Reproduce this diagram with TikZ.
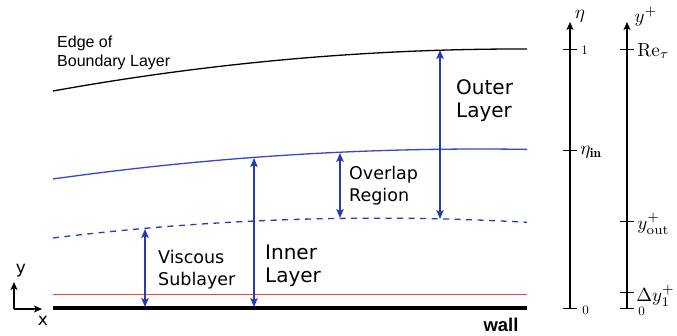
\documentclass[tikz,border=0pt]{standalone}
\usepackage{fontspec}
\usetikzlibrary{arrows.meta}
\newfontfamily\labelfont{DejaVu Sans}
\newfontfamily\edgefont{Liberation Sans}
\definecolor{layerblue}{RGB}{38,58,178}
\definecolor{curveblue}{RGB}{52,70,205}
\definecolor{viscred}{RGB}{255,60,60}

\tikzset{
  regionarrow/.style={draw=layerblue, line width=1.3pt,
    {Stealth[length=9pt,width=7.5pt,inset=2pt]}-{Stealth[length=9pt,width=7.5pt,inset=2pt]}},
  axisline/.style={draw=black, line width=1.3pt, -{Stealth[length=8pt,width=7pt,inset=2pt]}},
  tickmark/.style={draw=black, line width=1pt},
  bigtext/.style={font=\labelfont\fontsize{20}{23}\selectfont, align=left, inner sep=0pt, anchor=north west},
  midtext/.style={font=\labelfont\fontsize{17.5}{22.5}\selectfont, align=left, inner sep=0pt, anchor=north west},
  mathlbl/.style={scale=1.9, inner sep=0pt},
  ticklbl/.style={scale=1.3, inner sep=0pt, anchor=west},
}

\begin{document}
\begin{tikzpicture}[x=1pt,y=-1pt]
\useasboundingbox (0,0) rectangle (677,336);

% layer boundaries
\draw[black, line width=1.3pt] (53,91) .. controls (211,62.6) and (369,48.6) .. (527,49);
\draw[curveblue, line width=1.3pt] (53,179) .. controls (211,156.8) and (369,146.9) .. (527,149.4);
\draw[layerblue, line width=1.3pt, dash pattern=on 6pt off 5.5pt]
  (53,238) .. controls (211,218.7) and (369,213.5) .. (527,222.3);
\draw[viscred, line width=0.9pt] (53,294) -- (527,294);
\draw[black, line width=4.5pt] (53,308) -- (527,308);
\node[font=\edgefont\bfseries\fontsize{18.5}{20}\selectfont, anchor=base, inner sep=0pt] (wall) at (501,332) {wall};

\node[font=\edgefont\fontsize{16}{18.5}\selectfont, align=left, inner sep=0pt, anchor=north west]
  (edge) at (57,36) {Edge of\\Boundary Layer};

% region extents
\coordinate (vtop) at (145,229);  \coordinate (vbot) at (145,307);
\coordinate (itop) at (254,158);  \coordinate (ibot) at (254,307);
\coordinate (otop) at (340,153);  \coordinate (obot) at (340,218);
\coordinate (utop) at (440,50);   \coordinate (ubot) at (440,219);
\draw[regionarrow] (vtop) -- (vbot);
\draw[regionarrow] (itop) -- (ibot);
\draw[regionarrow] (otop) -- (obot);
\draw[regionarrow] (utop) -- (ubot);

\node[midtext] (visc) at (158,250) {Viscous\\Sublayer};
\node[bigtext] (inner) at (265,245) {Inner\\Layer};
\node[midtext] (overlap) at (349,166) {Overlap\\Region};
\node[bigtext] (outer) at (456,79) {Outer\\Layer};

% coordinate system
\coordinate (origin) at (14,309);
\coordinate (xend) at (42,309);
\coordinate (yend) at (14,282);
\draw[axisline, line width=1.1pt] (origin) -- (xend);
\draw[axisline, line width=1.1pt] (origin) -- (yend);
\node[font=\labelfont\fontsize{17}{20}\selectfont, inner sep=0pt] (ylbl) at (21,271) {y};
\node[font=\labelfont\fontsize{17}{20}\selectfont, inner sep=0pt] (xlbl) at (43,321) {x};

% outer scaling axis
\coordinate (eta0) at (570,309);
\coordinate (etatop) at (570,22);
\draw[axisline] (eta0) -- (etatop);
\node[mathlbl] (etalbl) at (580,16) {$\eta$};
\draw[tickmark] (563,50) -- (577,50);
\draw[tickmark] (563,151) -- (577,151);
\draw[tickmark] (563,309) -- (577,309);
\node[ticklbl] (eta1) at (581,50) {$1$};
\node[mathlbl, anchor=west] (etain) at (580,152) {$\eta_{\mathbf{in}}$};
\node[ticklbl] (etazero) at (582,310) {$0$};

% inner scaling axis
\coordinate (yp0) at (627,309);
\coordinate (yptop) at (627,22);
\draw[axisline] (yp0) -- (yptop);
\node[mathlbl] (yplbl) at (646,17) {$y^+$};
\draw[tickmark] (620,50) -- (634,50);
\draw[tickmark] (620,222) -- (634,222);
\draw[tickmark] (620,293) -- (634,293);
\draw[tickmark] (620,309) -- (634,309);
\node[mathlbl, anchor=west] (retau) at (637,51) {$\mathrm{Re}_\tau$};
\node[mathlbl, anchor=west] (yout) at (637,224) {$y^+_{\mathrm{out}}$};
\node[mathlbl, anchor=west] (dy1) at (636,296) {$\Delta y^+_1$};
\node[ticklbl] (ypzero) at (638,311) {$0$};
\end{tikzpicture}
\end{document}
